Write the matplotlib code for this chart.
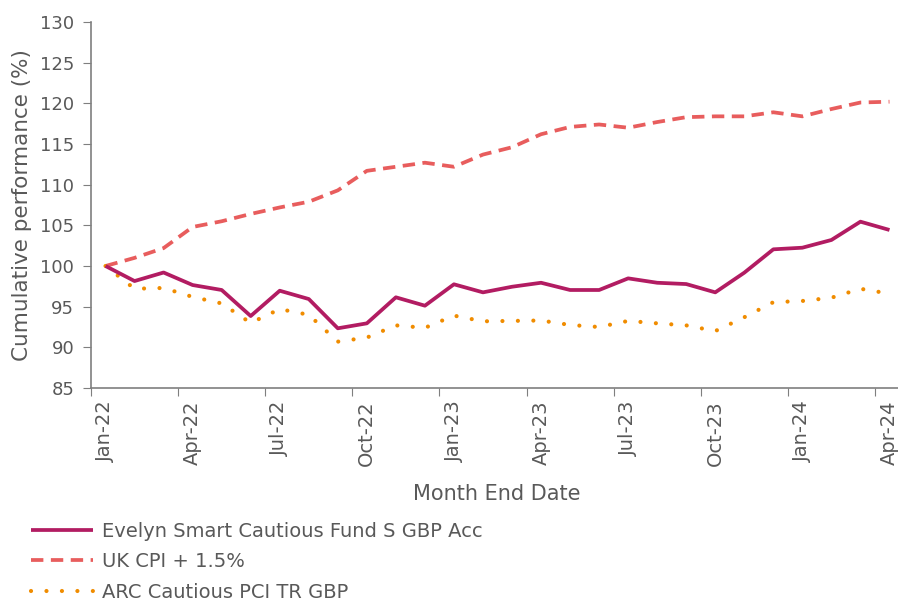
import numpy as np
import matplotlib.pyplot as plt

months = ['Jan-22', 'Feb-22', 'Mar-22', 'Apr-22', 'May-22', 'Jun-22', 'Jul-22', 'Aug-22', 'Sep-22', 'Oct-22',
          'Nov-22', 'Dec-22', 'Jan-23', 'Feb-23', 'Mar-23', 'Apr-23', 'May-23', 'Jun-23', 'Jul-23', 'Aug-23',
          'Sep-23', 'Oct-23', 'Nov-23', 'Dec-23', 'Jan-24', 'Feb-24', 'Mar-24', 'Apr-24']

fund = [100, 98.15, 99.2, 97.66, 97.05, 93.85, 96.96, 95.94, 92.34, 92.95,
        96.15, 95.12, 97.75, 96.76, 97.45, 97.94, 97.05, 97.05, 98.48, 97.94,
        97.78, 96.76, 99.18, 102.05, 102.25, 103.2, 105.45, 104.43]

cpi = [100, 101.0, 102.2, 104.8, 105.5, 106.4, 107.2, 107.9, 109.3, 111.7,
       112.2, 112.7, 112.2, 113.7, 114.6, 116.2, 117.1, 117.4, 117.0, 117.7,
       118.3, 118.4, 118.4, 118.9, 118.4, 119.3, 120.1, 120.2]

arc = [100, 97.2, 97.3, 96.2, 95.4, 93.0, 94.7, 94.0, 90.7, 91.2,
       92.7, 92.4, 93.9, 93.2, 93.25, 93.3, 92.75, 92.5, 93.25, 92.95,
       92.7, 92.0, 93.7, 95.55, 95.7, 96.1, 97.2, 96.6]

names = ['Evelyn Smart Cautious Fund S GBP Acc', 'UK CPI + 1.5%', 'ARC Cautious PCI TR GBP']

grey = '#595959'
plt.rcParams['font.family'] = 'DejaVu Sans'
plt.rcParams['text.color'] = grey

fig = plt.figure(figsize=(8.98, 6.01), dpi=100)
ax = fig.add_axes([91/898, 213/601, 813/898, 366/601])

x = np.arange(len(months))
ax.plot(x, fund, color='#B21C62', lw=2.7, solid_capstyle='butt', label=names[0], zorder=3)
ax.plot(x, cpi, color='#E85D5D', lw=2.7, linestyle=(0, (3.3, 2.0)), label=names[1])
ax.plot(x, arc, color='#F08C00', lw=3.0, linestyle=(0, (0.01, 3.7)), dash_capstyle='round', label=names[2])

ax.set_xlim(-0.5, 27.5)
ax.set_ylim(85, 130)
ax.set_yticks(np.arange(85, 131, 5))

# tick marks sit between months, labels at the month itself
ax.set_xticks(np.arange(-0.5, 27, 3))
ax.set_xticklabels([])
ax.set_xticks(x[::3], minor=True)
ax.set_xticklabels(months[::3], minor=True, rotation=90)
ax.tick_params(axis='x', which='minor', length=0, pad=9, labelsize=14)
ax.tick_params(axis='x', which='major', length=6, color='#7f7f7f')
ax.tick_params(axis='y', length=6, color='#7f7f7f', pad=6, labelsize=13)
ax.tick_params(labelcolor=grey, which='both')

for s in ['top', 'right']:
    ax.spines[s].set_visible(False)
for s in ['left', 'bottom']:
    ax.spines[s].set_color('#7f7f7f')
    ax.spines[s].set_linewidth(1.2)

ax.set_ylabel('Cumulative performance (%)', fontsize=15.5, color=grey, labelpad=6)
fig.text(497/898, 1 - 494/601, 'Month End Date', ha='center', va='center', fontsize=15, color=grey)

fig.legend(loc='lower left', bbox_to_anchor=(0.015, -0.03), frameon=False, fontsize=14,
           handlelength=3.2, handletextpad=0.45, labelspacing=0.58, labelcolor=grey)

fig.savefig('out.png', dpi=100)
